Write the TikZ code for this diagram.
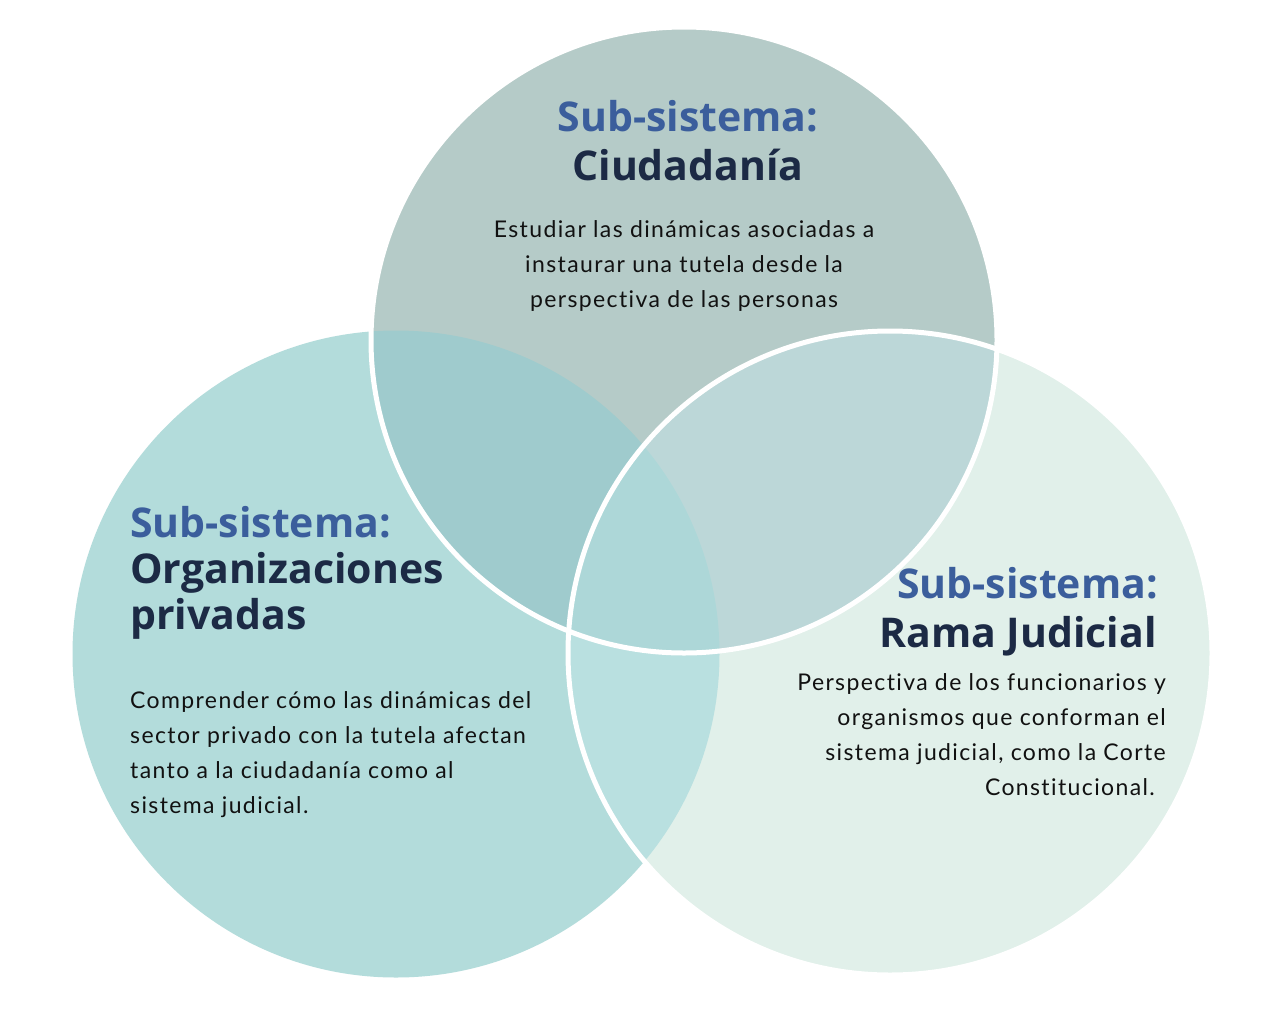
\documentclass[tikz,border=0pt]{standalone}
\usepackage{fontspec}
\setmainfont{Lato}
\newfontfamily\headfont{Open Sans}
\newfontfamily\bodyfont{Lato}[LetterSpace=6,Ligatures={NoCommon,NoRare}]
\definecolor{cT}{HTML}{B5CBC8}
\definecolor{cL}{HTML}{B3DCDB}
\definecolor{cR}{HTML}{E1F0EA}
\definecolor{cTL}{HTML}{9FCBCD}
\definecolor{cTR}{HTML}{BCD7D8}
\definecolor{cLR}{HTML}{B9E0E0}
\definecolor{cTLR}{HTML}{ADD7D8}
\definecolor{subblue}{HTML}{3B5E9C}
\definecolor{navy}{HTML}{1C2A45}
\definecolor{bodyink}{HTML}{111111}
\begin{document}
\begin{tikzpicture}[x=1pt,y=-1pt,
  head/.style={inner sep=0pt, anchor=base, font=\headfont\bfseries\fontsize{41}{46}\selectfont},
  subl/.style={head, text=subblue},
  namel/.style={head, text=navy},
  body/.style={inner sep=0pt, anchor=base, text=bodyink, font=\bodyfont\fontsize{23}{35}\selectfont},
  ring/.style={draw=white, line width=5pt}]
\useasboundingbox (0,0) rectangle (1266,1012);
\fill[white] (0,0) rectangle (1266,1012);
\coordinate (T) at (684,340);
\coordinate (L) at (396,654);
\coordinate (R) at (890,653);
\def\rT{313pt}\def\rL{323.5pt}\def\rR{322pt}
% base fills
\fill[cL] (L) circle (\rL);
\fill[cT] (T) circle (\rT);
\fill[cR] (R) circle (\rR);
% overlaps
\begin{scope}\clip (T) circle (\rT); \fill[cTL] (L) circle (\rL); \end{scope}
\begin{scope}\clip (R) circle (\rR); \fill[cLR] (L) circle (\rL); \end{scope}
\begin{scope}\clip (R) circle (\rR); \fill[cTR] (T) circle (\rT); \end{scope}
\begin{scope}\clip (R) circle (\rR); \clip (T) circle (\rT); \fill[cTLR] (L) circle (\rL); \end{scope}
% white rings
\draw[ring] (T) circle (\rT);
\draw[ring] (R) circle (\rR);
% top texts
\node[subl] (t1) at (688,131) {Sub-sistema:};
\node[namel] (t2) at (688,180) {Ciudadanía};
\node[body] (t3) at (684,237) {Estudiar las dinámicas asociadas a};
\node[body] (t4) at (684,272) {instaurar una tutela desde la};
\node[body] (t5) at (684,307) {perspectiva de las personas};
% left texts
\node[subl, anchor=base west] (l1) at (130,537) {Sub-sistema:};
\node[namel, anchor=base west] (l2) at (130,583) {Organizaciones};
\node[namel, anchor=base west] (l3) at (130,629) {privadas};
\node[body, anchor=base west] (l4) at (130,708) {Comprender cómo las dinámicas del};
\node[body, anchor=base west] (l5) at (130,743) {sector privado con la tutela afectan};
\node[body, anchor=base west] (l6) at (130,778) {tanto a la ciudadanía como al};
\node[body, anchor=base west] (l7) at (130,813) {sistema judicial.};
% right texts
\node[subl, anchor=base east] (r1) at (1158,598) {Sub-sistema:};
\node[namel, anchor=base east] (r2) at (1157,647) {Rama Judicial};
\node[body, anchor=base east] (r3) at (1166,690) {Perspectiva de los funcionarios y};
\node[body, anchor=base east] (r4) at (1166,725) {organismos que conforman el};
\node[body, anchor=base east] (r5) at (1166,760) {sistema judicial, como la Corte};
\node[body, anchor=base east] (r6) at (1155,795) {Constitucional.};
\end{tikzpicture}
\end{document}
